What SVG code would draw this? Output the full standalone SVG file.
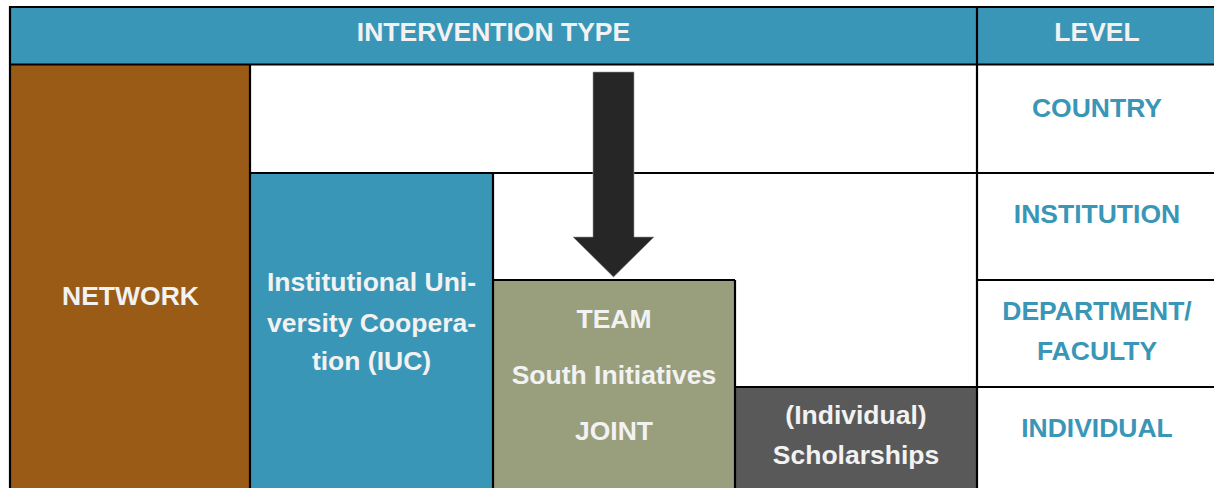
<svg xmlns="http://www.w3.org/2000/svg" width="1214" height="488" viewBox="0 0 1214 488">
<style>
.t{font-family:"Liberation Sans",Arial,sans-serif;font-weight:bold;font-size:26.5px;text-anchor:middle}
.w{fill:#F2F2F2}
.lv{fill:#3A96B7}
.ln{stroke:#000;stroke-width:2.2;fill:none}
</style>
<rect x="0" y="0" width="1214" height="488" fill="#fff"/>
<g id="header">
<rect x="10" y="7" width="1206" height="57.5" fill="#3A96B7"/>
<text class="t w" x="493.5" y="41">INTERVENTION TYPE</text>
<text class="t w" x="1097" y="41">LEVEL</text>
</g>
<g id="network">
<rect x="10" y="64.5" width="240" height="425" fill="#9A5B17"/>
<text class="t w" x="130.5" y="304.5">NETWORK</text>
</g>
<g id="iuc">
<rect x="250" y="173" width="243" height="316" fill="#3A96B7"/>
<text class="t w" x="371.5" y="290.5">Institutional Uni-</text>
<text class="t w" x="371.5" y="331.5">versity Coopera-</text>
<text class="t w" x="371.5" y="370">tion (IUC)</text>
</g>
<g id="team">
<rect x="493" y="280" width="242" height="209" fill="#999F7D"/>
<text class="t w" x="614" y="328">TEAM</text>
<text class="t w" x="614" y="383.5">South Initiatives</text>
<text class="t w" x="614" y="440">JOINT</text>
</g>
<g id="scholarships">
<rect x="735" y="387" width="242" height="102" fill="#595959"/>
<text class="t w" x="856" y="423.5">(Individual)</text>
<text class="t w" x="856" y="464">Scholarships</text>
</g>
<g id="levels">
<text class="t lv" x="1097" y="116.5">COUNTRY</text>
<text class="t lv" x="1097" y="222.5">INSTITUTION</text>
<text class="t lv" x="1097" y="319.5">DEPARTMENT/</text>
<text class="t lv" x="1097" y="359.5">FACULTY</text>
<text class="t lv" x="1097" y="437">INDIVIDUAL</text>
</g>
<g id="grid">
<path class="ln" d="M10 7H1214M10 64.5H1214M250 173H1214M493 280H735M977 280H1214M735 387H1214"/>
<path class="ln" d="M10 6V488M250 64.5V488M493 173V488M735 280V488M977 6V488"/>
</g>
<g id="connectors">
<polygon points="593,72 634,72 634,237 654,237 613.5,277 573,237 593,237" fill="#262626" stroke="#9a9a9a" stroke-width="0.6"/>
</g>
</svg>
